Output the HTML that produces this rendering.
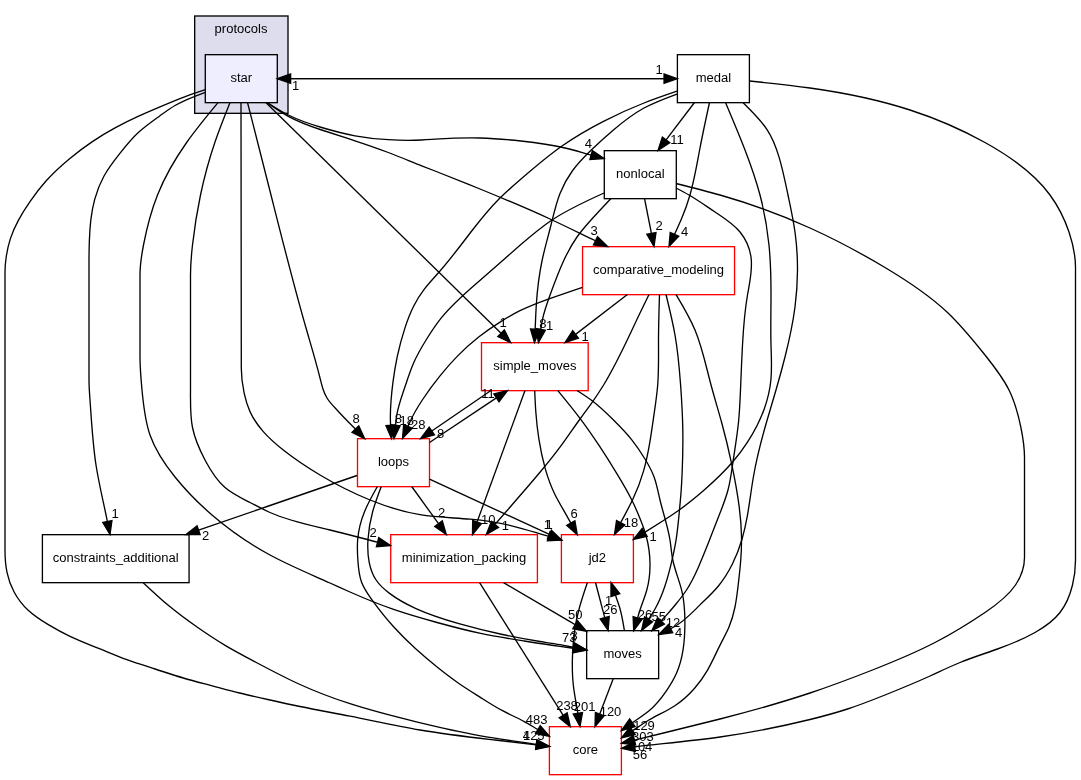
<!DOCTYPE html>
<html><head><meta charset="utf-8"><title>star directory dependency graph</title>
<style>html,body{margin:0;padding:0;background:#fff;}svg{display:block;will-change:transform;}</style></head>
<body>
<svg width="1081" height="780" viewBox="0 0 1081 780">
<rect x="0" y="0" width="1081" height="780" fill="white"/>
<rect x="194.67" y="16.00" width="93.33" height="97.33" fill="#ddddee" stroke="black" stroke-width="1.33"/>
<g font-family="Liberation Sans, sans-serif" font-size="13.03" text-anchor="middle" fill="black">
<text x="241" y="32.9">protocols</text>
<rect x="205.30" y="54.67" width="72.00" height="48.00" fill="#eeeeff" stroke="black" stroke-width="1.33"/>
<text x="241.30" y="82.37">star</text>
<rect x="677.40" y="54.67" width="72.00" height="48.00" fill="none" stroke="black" stroke-width="1.33"/>
<text x="713.40" y="82.37">medal</text>
<rect x="604.30" y="150.67" width="72.00" height="48.00" fill="none" stroke="black" stroke-width="1.33"/>
<text x="640.30" y="178.37">nonlocal</text>
<rect x="582.55" y="246.67" width="152.00" height="48.00" fill="white" stroke="red" stroke-width="1.33"/>
<text x="658.55" y="274.37">comparative_modeling</text>
<rect x="481.50" y="342.67" width="106.67" height="48.00" fill="white" stroke="red" stroke-width="1.33"/>
<text x="534.84" y="370.37">simple_moves</text>
<rect x="357.50" y="438.67" width="72.00" height="48.00" fill="white" stroke="red" stroke-width="1.33"/>
<text x="393.50" y="466.37">loops</text>
<rect x="42.40" y="534.67" width="146.67" height="48.00" fill="none" stroke="black" stroke-width="1.33"/>
<text x="115.73" y="562.37">constraints_additional</text>
<rect x="390.73" y="534.67" width="146.67" height="48.00" fill="white" stroke="red" stroke-width="1.33"/>
<text x="464.06" y="562.37">minimization_packing</text>
<rect x="561.40" y="534.67" width="72.00" height="48.00" fill="white" stroke="red" stroke-width="1.33"/>
<text x="597.40" y="562.37">jd2</text>
<rect x="586.65" y="630.67" width="72.00" height="48.00" fill="none" stroke="black" stroke-width="1.33"/>
<text x="622.65" y="658.37">moves</text>
<rect x="549.40" y="726.67" width="72.00" height="48.00" fill="white" stroke="red" stroke-width="1.33"/>
<text x="585.40" y="754.37">core</text>
</g>
<g fill="none" stroke="black" stroke-width="1.33">
<path d="M277.30,78.67 L664.07,78.67"/>
<path d="M677.40,78.67 L290.63,78.67"/>
<path d="M205.30,89.70 C198.37,92.02 191.44,94.34 184.60,96.90 C176.31,100.00 168.15,103.45 160.00,106.90 C152.84,109.93 145.67,112.97 138.60,116.20 C130.78,119.77 123.06,123.59 115.50,127.70 C107.60,131.99 99.87,136.60 92.40,141.60 C84.41,146.95 76.72,152.75 69.30,158.90 C61.12,165.68 53.28,172.90 46.20,180.80 C40.34,187.35 35.01,194.37 30.00,201.60 C25.86,207.58 21.95,213.70 18.50,220.10 C15.30,226.03 12.49,232.20 10.40,238.60 C8.45,244.58 7.12,250.76 6.20,257.00 C5.47,261.97 5.00,266.98 5.00,272.00 L5.00,550.00 C5.00,557.46 5.47,564.98 7.00,572.30 C8.43,579.15 10.79,585.82 14.10,592.00 C17.75,598.82 22.56,605.05 28.20,610.30 C34.12,615.80 40.95,620.23 47.90,624.40 C55.27,628.82 62.77,632.96 70.50,636.60 C79.71,640.93 89.25,644.56 98.70,648.40 C108.09,652.21 117.40,656.23 126.90,659.70 C136.19,663.09 145.67,665.97 155.10,669.00 C164.50,672.02 173.84,675.20 183.30,678.00 C192.60,680.75 202.02,683.12 211.40,685.60 C220.80,688.08 230.17,690.66 239.60,693.00 C248.96,695.32 258.38,697.41 267.80,699.50 C278.52,701.89 289.24,704.28 300.00,706.50 C316.63,709.92 333.34,712.91 350.00,716.20 C373.34,720.81 396.56,726.02 420.00,730.00 C444.85,734.23 469.94,737.08 495.00,740.00 C508.76,741.60 522.51,743.23 536.26,744.85"/>
<path d="M205.30,92.30 C194.87,96.11 184.45,99.92 175.00,105.50 C169.82,108.56 164.93,112.15 160.00,115.70 C152.64,121.00 145.20,126.20 138.60,132.30 C131.81,138.57 125.91,145.80 120.10,153.10 C114.22,160.50 108.43,167.98 103.90,176.20 C99.90,183.45 96.88,191.28 94.70,199.30 C92.85,206.13 91.61,213.09 90.80,220.10 C90.04,226.71 89.65,233.35 89.40,240.00 C89.12,247.33 89.00,254.67 89.00,262.00 L89.00,380.00 C89.00,386.67 89.52,393.33 90.00,400.00 C91.56,421.73 92.68,443.53 96.00,465.00 C98.93,483.94 103.58,502.62 107.37,521.43"/>
<path d="M218.00,102.67 C207.34,115.51 196.69,128.36 187.00,142.00 C175.27,158.53 164.96,176.23 157.50,195.00 C151.11,211.07 146.80,227.93 143.50,245.00 C141.58,254.93 140.00,264.93 140.00,275.00 L140.00,357.00 C140.00,368.02 140.97,378.96 142.00,390.00 C143.43,405.26 144.99,420.72 150.00,435.00 C155.36,450.27 164.67,464.20 175.00,477.00 C186.21,490.89 198.61,503.47 212.00,515.00 C229.79,530.32 249.33,543.82 270.00,555.00 C289.43,565.51 309.85,573.98 330.00,583.00 C336.67,585.99 343.32,589.04 350.00,592.00 C364.31,598.34 378.81,604.30 393.60,609.40 C407.91,614.34 422.49,618.48 437.10,622.50 C451.56,626.47 466.05,630.32 480.70,633.40 C495.13,636.43 509.72,638.71 524.30,641.00 C536.19,642.87 548.08,644.75 560.00,646.40 C564.48,647.02 568.96,647.61 573.44,648.22"/>
<path d="M230.00,102.50 C224.78,115.59 219.56,128.67 215.00,142.00 C209.08,159.33 204.28,177.07 200.50,195.00 C197.02,211.52 194.40,228.21 192.50,245.00 C191.37,254.97 190.50,264.98 190.50,275.00 L190.50,390.00 C190.50,402.52 190.06,415.33 192.50,427.50 C194.76,438.79 199.49,449.52 205.00,460.00 C210.38,470.23 216.52,480.21 225.00,487.50 C232.27,493.75 241.27,498.02 250.00,502.50 C256.69,505.93 263.23,509.49 270.00,512.50 C288.92,520.92 309.66,525.11 330.00,530.00 C345.99,533.85 361.72,538.13 377.59,542.19"/>
<path d="M241.00,102.50 L241.30,368.30 C241.31,376.69 242.40,385.07 244.20,393.30 C245.57,399.58 247.35,405.78 250.00,411.60 C253.31,418.88 257.98,425.57 263.30,431.60 C269.32,438.42 276.18,444.38 283.30,450.00 C294.94,459.18 307.27,467.43 320.00,475.00 C336.02,484.53 352.67,492.96 370.00,500.00 C386.15,506.56 402.89,511.90 420.00,514.70 C436.48,517.39 453.29,517.72 470.00,519.20 C484.05,520.44 498.03,522.50 511.70,525.80 C524.15,528.80 536.35,532.83 548.68,536.34"/>
<path d="M247.50,102.50 C255.35,133.33 263.21,164.16 271.00,195.00 C282.40,240.12 293.66,285.27 306.60,330.00 C311.22,345.97 316.05,361.88 320.00,378.00 C320.86,381.52 321.68,385.04 322.80,388.50 C323.87,391.81 325.21,395.05 327.00,398.00 C329.69,402.44 333.40,406.20 337.00,410.00 C340.02,413.18 342.96,416.38 346.00,419.50 C349.11,422.69 352.31,425.80 355.39,429.03"/>
<path d="M265.80,102.50 L501.08,333.17"/>
<path d="M267.00,102.50 C273.95,107.37 280.90,112.25 288.30,116.30 C298.82,122.07 310.25,126.17 321.70,130.00 C332.80,133.71 343.92,137.17 355.00,140.80 C366.17,144.46 377.30,148.31 388.30,152.50 C399.50,156.77 410.56,161.39 421.70,165.80 C426.13,167.55 430.57,169.27 435.00,171.00 C450.05,176.87 465.04,182.90 480.00,189.00 C503.51,198.58 526.96,208.34 550.00,219.00 C565.25,226.05 580.32,233.50 595.47,240.75"/>
<path d="M267.00,102.50 C273.98,106.91 280.96,111.32 288.30,115.00 C298.90,120.31 310.27,124.09 321.70,127.50 C332.70,130.78 343.76,133.72 355.00,135.80 C365.98,137.83 377.13,139.03 388.30,139.70 C399.43,140.37 410.58,140.52 421.70,140.00 C426.14,139.79 430.57,139.48 435.00,139.20 C449.98,138.25 465.01,137.62 480.00,138.00 C493.69,138.34 507.35,139.52 521.00,141.00 C535.79,142.61 550.56,144.58 565.00,148.00 C573.77,150.08 582.42,152.69 591.13,155.03"/>
<path d="M677.00,91.20 C665.94,94.97 654.88,98.75 644.00,103.00 C630.03,108.46 616.37,114.72 603.00,121.60 C588.84,128.89 575.01,136.88 562.00,146.00 C547.65,156.07 534.30,167.51 521.00,179.00 C513.31,185.64 505.63,192.30 498.50,199.50 C489.12,208.98 480.70,219.42 472.50,230.00 C461.39,244.34 450.69,258.94 438.70,272.50 C433.91,277.92 428.91,283.17 424.50,288.90 C420.32,294.32 416.67,300.18 413.60,306.30 C410.09,313.30 407.33,320.65 404.90,328.10 C401.86,337.40 399.33,346.84 397.30,356.40 C395.46,365.06 394.02,373.82 392.90,382.60 C392.16,388.38 391.56,394.18 391.10,400.00 C390.43,408.39 390.04,416.82 390.61,425.20"/>
<path d="M677.00,94.00 C665.72,98.13 654.43,102.26 644.00,108.00 C633.03,114.04 623.01,121.85 613.40,130.00 C605.69,136.54 598.25,143.28 591.00,150.30 C584.31,156.77 577.79,163.48 572.30,171.00 C567.28,177.89 563.12,185.47 560.00,193.40 C555.98,203.59 553.67,214.35 551.00,225.00 C548.07,236.69 544.71,248.24 542.20,260.00 C539.05,274.78 537.25,289.89 536.30,305.00 C535.79,313.06 535.53,321.12 535.14,329.19"/>
<path d="M694.50,102.50 L666.07,139.89"/>
<path d="M709.50,102.50 C706.20,117.63 702.90,132.76 700.00,148.00 C697.01,163.75 694.44,179.62 690.00,195.00 C687.54,203.51 684.51,211.87 681.00,220.00 C678.92,224.83 676.67,229.57 674.50,234.36"/>
<path d="M725.50,102.50 C732.17,118.26 738.84,134.02 745.00,150.00 C750.69,164.76 755.94,179.71 760.00,195.00 C764.35,211.37 767.33,228.14 769.00,245.00 C770.65,261.61 771.02,278.32 771.00,295.00 C770.98,311.67 770.55,328.30 771.00,345.00 C771.31,356.69 772.05,368.40 770.90,380.00 C769.95,389.58 767.71,399.08 764.50,408.20 C760.29,420.16 754.41,431.48 747.50,442.10 C743.02,448.98 738.12,455.57 732.80,461.80 C724.11,471.98 714.31,481.19 704.20,490.00 C696.14,497.02 687.87,503.79 679.20,510.00 C673.95,513.76 668.54,517.32 663.10,520.80 C656.99,524.71 650.82,528.53 644.68,532.40"/>
<path d="M743.00,102.67 C747.38,107.06 751.76,111.44 756.00,116.00 C760.04,120.35 763.96,124.86 767.20,129.80 C772.73,138.21 776.32,147.86 779.20,157.60 C782.86,169.96 785.37,182.47 788.00,195.00 C790.58,207.28 793.26,219.57 795.00,232.00 C796.76,244.57 797.55,257.29 797.50,270.00 C797.45,282.38 796.60,294.74 795.00,307.00 C792.80,323.86 789.16,340.51 785.00,357.00 C782.21,368.06 779.18,379.05 776.00,390.00 C772.37,402.51 768.54,414.95 765.00,427.50 C760.35,443.98 756.20,460.64 753.30,477.50 C751.09,490.36 749.61,503.34 747.30,516.20 C745.91,523.95 744.21,531.65 742.00,539.20 C739.53,547.64 736.40,555.88 732.50,563.80 C728.52,571.89 723.73,579.63 718.00,586.50 C712.38,593.25 705.85,599.15 699.50,605.40 C691.45,613.33 683.69,621.81 673.80,627.00 C672.73,627.56 671.64,628.08 670.56,628.62"/>
<path d="M749.50,81.00 C769.68,83.09 789.86,85.18 810.00,88.00 C843.86,92.73 877.62,99.51 910.00,110.00 C935.85,118.37 960.82,129.12 985.00,142.50 C1009.71,156.18 1033.60,172.62 1050.00,195.00 C1058.17,206.14 1064.48,218.75 1069.00,232.00 C1072.92,243.50 1075.50,255.47 1075.50,267.50 L1075.50,560.00 C1075.50,568.39 1074.52,576.76 1072.50,585.00 C1070.08,594.89 1066.16,604.60 1060.00,612.50 C1053.47,620.87 1044.41,627.20 1035.00,632.50 C1022.96,639.29 1010.34,644.39 997.50,649.00 C985.01,653.48 972.30,657.49 960.00,662.50 C949.85,666.63 939.98,671.45 930.00,676.00 C915.18,682.76 900.12,688.94 885.00,695.00 C872.61,699.96 860.17,704.85 847.50,709.00 C835.17,713.04 822.62,716.40 810.00,719.50 C780.30,726.81 750.26,732.74 720.00,737.00 C691.68,740.99 663.16,743.52 634.74,746.78"/>
<path d="M644.50,198.50 L651.41,233.42"/>
<path d="M604.00,193.00 C586.09,201.09 568.19,209.18 552.00,220.00 C540.73,227.53 530.30,236.38 520.00,245.30 C506.25,257.21 492.74,269.23 479.00,281.20 C465.97,292.55 452.72,303.86 441.90,317.20 C436.34,324.06 431.41,331.46 426.70,339.00 C421.86,346.76 417.24,354.68 413.60,363.00 C410.20,370.77 407.65,378.90 404.90,387.00 C401.58,396.76 397.97,406.47 396.50,416.60 C396.08,419.47 395.84,422.37 395.51,425.26"/>
<path d="M611.00,198.50 C604.28,205.61 597.57,212.72 591.00,220.00 C586.07,225.46 581.23,231.01 577.00,237.00 C571.92,244.19 567.72,252.00 564.00,260.00 C558.54,271.72 554.10,283.83 549.70,296.00 C546.97,303.56 544.25,311.16 542.60,319.00 C541.88,322.44 541.36,325.92 540.75,329.38"/>
<path d="M676.00,188.00 C680.38,190.27 684.75,192.54 689.00,195.00 C697.94,200.18 706.31,206.20 715.00,212.00 C723.96,217.98 733.25,223.71 740.00,232.00 C745.76,239.07 749.67,248.00 751.00,257.00 C752.86,269.58 749.69,282.32 747.50,295.00 C744.61,311.70 743.40,328.31 742.50,345.00 C741.69,359.96 741.12,374.98 740.50,390.00 C740.05,400.79 739.58,411.58 738.50,422.30 C737.17,435.51 734.91,448.61 733.00,461.80 C731.63,471.27 730.43,480.79 728.00,490.00 C725.93,497.86 722.96,505.49 720.00,513.10 C716.40,522.36 712.82,531.59 709.20,540.80 C705.76,549.54 702.29,558.27 698.50,566.90 C695.00,574.86 691.23,582.74 686.50,590.00 C683.32,594.88 679.70,599.48 676.00,604.00 C672.82,607.88 669.59,611.71 666.20,615.40 C664.49,617.26 662.74,619.09 661.01,620.94"/>
<path d="M676.00,183.50 C690.71,187.16 705.42,190.83 720.00,195.00 C750.74,203.79 780.91,214.83 810.00,228.00 C835.73,239.64 860.61,252.95 885.00,267.50 C907.16,280.72 928.93,294.95 947.50,312.50 C961.17,325.41 973.11,340.12 985.00,355.00 C993.90,366.14 1002.78,377.39 1009.00,390.00 C1014.84,401.84 1018.34,414.88 1021.00,428.00 C1022.98,437.78 1024.50,447.60 1024.50,457.50 L1024.50,557.50 C1024.50,567.15 1020.91,576.89 1015.50,585.00 C1007.82,596.51 996.47,604.74 985.00,612.50 C968.72,623.52 952.21,633.62 935.00,642.50 C914.84,652.90 893.71,661.63 872.50,670.00 C851.81,678.16 831.04,685.97 810.00,693.00 C780.40,702.89 750.26,711.24 720.00,719.00 C691.53,726.30 662.96,733.07 634.44,740.11"/>
<path d="M627.40,294.50 L575.57,334.37"/>
<path d="M582.50,287.30 C571.55,291.00 560.60,294.71 549.70,298.60 C539.62,302.20 529.58,305.97 520.00,310.70 C513.41,313.96 507.04,317.68 500.80,321.60 C493.29,326.32 485.97,331.34 479.00,336.80 C471.31,342.83 464.03,349.40 457.20,356.40 C451.07,362.67 445.30,369.28 439.80,376.10 C433.60,383.78 427.73,391.73 422.30,400.00 C417.73,406.96 413.47,414.15 410.00,421.70 C409.30,423.23 408.62,424.79 407.93,426.33"/>
<path d="M649.00,294.50 C645.98,300.65 642.96,306.81 640.00,313.00 C628.39,337.27 617.66,362.09 603.60,385.00 C599.88,391.06 595.93,397.00 591.80,402.80 C587.93,408.25 583.90,413.58 580.00,419.00 C573.99,427.34 568.27,435.90 562.20,444.20 C555.16,453.84 547.66,463.14 540.00,472.30 C525.28,489.92 510.01,507.04 495.01,524.41"/>
<path d="M659.50,294.50 C659.02,309.66 658.53,324.81 658.50,340.00 C658.47,355.02 658.89,370.06 657.70,385.00 C656.91,394.90 655.43,404.75 654.00,414.60 C652.57,424.48 651.20,434.36 649.50,444.20 C647.95,453.18 646.11,462.13 643.60,470.90 C640.74,480.89 636.99,490.64 632.50,500.00 C628.81,507.69 624.61,515.12 620.67,522.68"/>
<path d="M666.00,294.50 C669.31,307.94 672.62,321.39 675.00,335.00 C677.88,351.51 679.38,368.25 680.60,385.00 C681.68,399.80 682.53,414.59 682.80,429.40 C683.07,444.20 682.75,459.01 682.10,473.80 C681.86,479.20 681.58,484.61 681.20,490.00 C680.66,497.71 679.93,505.40 679.20,513.10 C678.38,521.82 677.56,530.55 676.20,539.20 C674.98,546.96 673.32,554.65 671.50,562.30 C669.52,570.62 667.34,578.89 664.60,587.00 C662.03,594.59 658.96,602.05 655.00,609.00 C652.98,612.53 650.74,615.93 648.58,619.37"/>
<path d="M676.00,294.50 C682.92,306.09 689.85,317.68 695.00,330.00 C702.06,346.89 705.79,365.15 710.50,383.00 C713.98,396.20 718.00,409.18 721.60,422.30 C725.44,436.27 728.80,450.40 731.80,464.60 C734.76,478.61 737.38,492.69 739.20,506.90 C740.44,516.62 741.32,526.40 741.50,536.20 C741.64,543.87 741.37,551.55 740.80,559.20 C740.23,566.92 739.36,574.61 738.50,582.30 C737.58,590.57 736.66,598.84 735.00,607.00 C733.61,613.83 731.69,620.59 729.00,627.00 C726.47,633.03 723.25,638.75 720.30,644.60 C715.97,653.17 712.20,662.02 707.40,670.30 C703.72,676.64 699.44,682.65 694.60,688.20 C688.60,695.08 681.73,701.27 674.10,706.20 C665.92,711.48 656.87,715.33 648.50,720.30 C643.07,723.53 637.93,727.23 632.65,730.69"/>
<path d="M491.00,390.50 L431.80,430.98"/>
<path d="M429.50,442.50 L496.41,397.89"/>
<path d="M525.00,390.50 L477.07,521.98"/>
<path d="M534.70,390.67 C535.00,397.68 535.30,404.70 535.80,411.70 C536.46,420.90 537.48,430.08 538.90,439.20 C540.46,449.21 542.51,459.14 545.30,468.90 C547.78,477.58 550.83,486.12 554.80,494.20 C558.01,500.73 561.81,506.96 565.40,513.30 C567.23,516.53 569.01,519.78 570.81,523.02"/>
<path d="M557.80,390.50 C565.33,399.66 572.87,408.83 580.00,418.30 C586.71,427.21 593.05,436.39 599.20,445.70 C605.31,454.95 611.22,464.33 617.00,473.80 C622.23,482.37 627.35,491.02 631.80,500.00 C634.79,506.04 637.47,512.24 640.00,518.50 C642.34,524.31 644.54,530.17 646.20,536.20 C648.66,545.15 649.91,554.46 650.00,563.80 C650.09,572.65 649.14,581.53 646.80,590.00 C644.93,596.78 642.17,603.30 640.00,610.00 C639.15,612.63 638.39,615.28 637.59,617.92"/>
<path d="M577.00,390.50 C582.02,393.71 587.05,396.93 591.80,400.50 C599.75,406.47 606.93,413.44 614.00,420.50 C620.21,426.71 626.34,432.98 631.80,439.80 C636.64,445.85 640.96,452.32 645.00,459.00 C648.46,464.72 651.71,470.59 654.00,476.80 C656.76,484.26 658.13,492.20 660.00,500.00 C663.21,513.42 667.88,526.44 670.00,540.00 C671.04,546.64 671.47,553.42 672.80,560.00 C674.91,570.46 679.30,580.42 681.80,590.80 C684.41,601.62 684.97,612.91 684.90,624.10 C684.85,632.69 684.42,641.23 683.10,649.70 C681.87,657.62 679.87,665.48 676.70,672.80 C673.96,679.13 670.35,685.06 666.40,690.80 C661.22,698.33 655.46,705.53 648.50,711.30 C643.44,715.50 637.74,718.95 632.36,722.77"/>
<path d="M357.00,475.50 C328.00,485.50 299.00,495.49 270.00,505.50 C246.20,513.71 222.40,521.93 198.60,530.15"/>
<path d="M411.70,486.50 L438.51,523.69"/>
<path d="M429.50,479.20 L549.39,534.42"/>
<path d="M381.20,486.67 C378.11,494.87 375.02,503.06 372.70,511.50 C370.21,520.53 368.61,529.83 368.00,539.20 C367.50,546.91 367.68,554.67 369.20,562.30 C370.45,568.57 372.60,574.75 376.10,580.00 C379.52,585.12 384.22,589.34 389.20,593.10 C397.34,599.24 406.21,604.12 415.40,608.30 C429.38,614.66 444.09,619.38 458.90,623.60 C473.33,627.71 487.86,631.34 502.50,634.50 C514.93,637.18 527.43,639.53 540.00,641.50 C546.67,642.54 553.36,643.48 560.00,644.70 C564.54,645.53 569.05,646.50 573.58,647.40"/>
<path d="M377.30,486.67 C372.71,494.77 368.12,502.86 364.60,511.50 C361.00,520.34 358.53,529.74 357.70,539.20 C357.04,546.75 357.42,554.34 358.00,562.00 C358.52,568.82 359.20,575.71 361.50,582.00 C363.81,588.32 367.76,594.03 371.80,599.60 C378.70,609.11 385.84,618.19 393.60,626.80 C400.46,634.42 407.80,641.67 415.40,648.60 C422.43,655.01 429.69,661.14 437.10,667.10 C444.19,672.80 451.42,678.34 458.90,683.50 C466.02,688.41 473.38,692.97 480.70,697.60 C487.87,702.14 495.01,706.74 502.50,710.70 C509.68,714.50 517.17,717.71 524.30,721.60 C528.91,724.11 533.36,726.91 537.90,729.56"/>
<path d="M143.20,582.67 C151.72,590.66 160.23,598.65 169.20,606.10 C178.24,613.61 187.75,620.57 197.40,627.30 C206.58,633.70 215.89,639.90 225.50,645.60 C234.72,651.07 244.21,656.08 253.70,661.10 C268.99,669.20 284.26,677.35 300.00,684.50 C316.25,691.89 333.00,698.21 350.00,703.70 C371.52,710.65 393.43,716.24 415.40,721.60 C437.06,726.88 458.77,731.92 480.70,735.80 C499.17,739.07 517.78,741.51 536.33,744.37"/>
<path d="M503.60,582.67 L575.15,624.65"/>
<path d="M479.60,582.67 L563.20,715.39"/>
<path d="M595.50,582.50 L604.72,617.61"/>
<path d="M587.40,582.50 C584.48,591.11 581.56,599.72 579.20,608.50 C577.36,615.31 575.86,622.23 574.80,629.20 C573.60,637.04 572.96,644.96 572.60,652.90 C572.11,663.61 572.12,674.37 573.30,685.00 C574.36,694.50 576.35,703.89 577.88,713.34"/>
<path d="M624.40,630.50 C623.12,622.57 621.84,614.64 619.50,607.00 C618.27,602.99 616.75,599.06 615.37,595.09"/>
<path d="M613.30,678.50 L599.75,714.04"/>
</g>
<g fill="black" stroke="black" stroke-width="1.33" stroke-linejoin="miter">
<polygon points="677.40,78.67 664.07,83.34 664.07,74.00"/>
<polygon points="277.30,78.67 290.63,74.00 290.63,83.34"/>
<polygon points="549.50,746.40 535.72,749.48 536.81,740.21"/>
<polygon points="110.00,534.50 102.79,522.35 111.95,520.51"/>
<polygon points="586.65,650.00 572.81,652.84 574.07,643.59"/>
<polygon points="390.50,545.50 376.43,546.72 378.75,537.67"/>
<polygon points="561.50,540.00 547.40,540.84 549.96,531.85"/>
<polygon points="364.60,438.67 352.02,432.26 358.77,425.80"/>
<polygon points="510.60,342.50 497.81,336.50 504.35,329.83"/>
<polygon points="607.50,246.50 593.46,244.96 597.49,236.54"/>
<polygon points="604.00,158.50 589.91,159.54 592.34,150.53"/>
<polygon points="391.50,438.50 385.95,425.51 395.27,424.89"/>
<polygon points="534.50,342.50 530.47,328.96 539.80,329.41"/>
<polygon points="658.00,150.50 662.35,137.06 669.79,142.72"/>
<polygon points="669.00,246.50 670.24,232.43 678.75,236.28"/>
<polygon points="633.40,539.50 642.19,528.45 647.17,536.35"/>
<polygon points="658.65,634.60 668.47,624.45 672.66,632.80"/>
<polygon points="621.50,748.30 634.21,742.14 635.28,751.42"/>
<polygon points="654.00,246.50 646.83,234.33 655.99,232.52"/>
<polygon points="394.00,438.50 390.87,424.73 400.15,425.79"/>
<polygon points="538.40,342.50 536.15,328.56 545.34,330.20"/>
<polygon points="651.90,630.67 657.60,617.75 664.42,624.13"/>
<polygon points="621.50,743.30 633.32,735.57 635.56,744.64"/>
<polygon points="565.00,342.50 572.72,330.67 578.41,338.07"/>
<polygon points="402.50,438.50 403.67,424.42 412.20,428.23"/>
<polygon points="486.30,534.50 491.48,521.36 498.55,527.46"/>
<polygon points="614.50,534.50 616.53,520.52 624.81,524.84"/>
<polygon points="641.50,630.67 644.62,616.89 652.54,621.85"/>
<polygon points="621.50,738.00 630.09,726.79 635.21,734.60"/>
<polygon points="420.80,438.50 429.17,427.12 434.44,434.83"/>
<polygon points="507.50,390.50 499.00,401.78 493.82,394.01"/>
<polygon points="472.50,534.50 472.68,520.38 481.45,523.58"/>
<polygon points="577.30,534.67 566.73,525.30 574.89,520.75"/>
<polygon points="633.70,630.67 633.12,616.56 642.05,619.28"/>
<polygon points="621.50,730.50 629.66,718.97 635.07,726.58"/>
<polygon points="186.00,534.50 197.08,525.74 200.12,534.56"/>
<polygon points="446.30,534.50 434.72,526.42 442.29,520.96"/>
<polygon points="561.50,540.00 547.44,538.66 551.35,530.18"/>
<polygon points="586.65,650.00 572.67,651.98 574.49,642.82"/>
<polygon points="549.40,736.30 535.54,733.59 540.26,725.53"/>
<polygon points="549.50,746.40 535.61,748.99 537.04,739.75"/>
<polygon points="586.65,631.40 572.79,628.68 577.52,620.63"/>
<polygon points="570.30,726.67 559.24,717.88 567.15,712.90"/>
<polygon points="608.10,630.50 600.20,618.79 609.23,616.42"/>
<polygon points="580.00,726.50 573.27,714.08 582.49,712.60"/>
<polygon points="611.00,582.50 619.78,593.56 610.96,596.62"/>
<polygon points="595.00,726.50 595.39,712.38 604.11,715.71"/>
</g>
<g font-family="Liberation Sans, sans-serif" font-size="13.03" text-anchor="middle" fill="black">
<text x="659.00" y="73.50">1</text>
<text x="295.70" y="89.80">1</text>
<text x="533.75" y="739.80">125</text>
<text x="115.00" y="518.00">1</text>
<text x="574.20" y="639.80">3</text>
<text x="373.00" y="536.50">2</text>
<text x="547.30" y="528.70">1</text>
<text x="356.20" y="423.20">8</text>
<text x="503.00" y="327.20">1</text>
<text x="594.00" y="235.00">3</text>
<text x="588.40" y="148.10">4</text>
<text x="398.30" y="423.20">8</text>
<text x="542.90" y="327.70">8</text>
<text x="677.00" y="144.00">11</text>
<text x="684.50" y="236.00">4</text>
<text x="653.00" y="541.00">1</text>
<text x="678.50" y="637.00">4</text>
<text x="640.00" y="758.80">56</text>
<text x="659.00" y="230.00">2</text>
<text x="406.70" y="424.80">18</text>
<text x="549.70" y="330.00">1</text>
<text x="673.00" y="627.00">12</text>
<text x="641.50" y="751.00">104</text>
<text x="585.10" y="340.80">1</text>
<text x="418.30" y="428.70">28</text>
<text x="505.30" y="529.80">1</text>
<text x="631.00" y="526.50">18</text>
<text x="658.70" y="621.00">55</text>
<text x="642.80" y="740.60">303</text>
<text x="440.50" y="437.70">8</text>
<text x="488.00" y="398.20">11</text>
<text x="488.30" y="523.70">10</text>
<text x="574.20" y="518.20">6</text>
<text x="645.00" y="619.40">26</text>
<text x="644.00" y="729.70">129</text>
<text x="205.50" y="540.00">2</text>
<text x="441.70" y="517.30">2</text>
<text x="549.20" y="528.70">1</text>
<text x="569.30" y="641.80">73</text>
<text x="536.70" y="724.00">483</text>
<text x="526.40" y="739.80">4</text>
<text x="575.30" y="619.40">50</text>
<text x="567.00" y="710.00">238</text>
<text x="610.30" y="613.70">26</text>
<text x="584.70" y="711.00">201</text>
<text x="608.50" y="605.00">1</text>
<text x="610.50" y="716.00">120</text>
</g>
</svg>
</body></html>
